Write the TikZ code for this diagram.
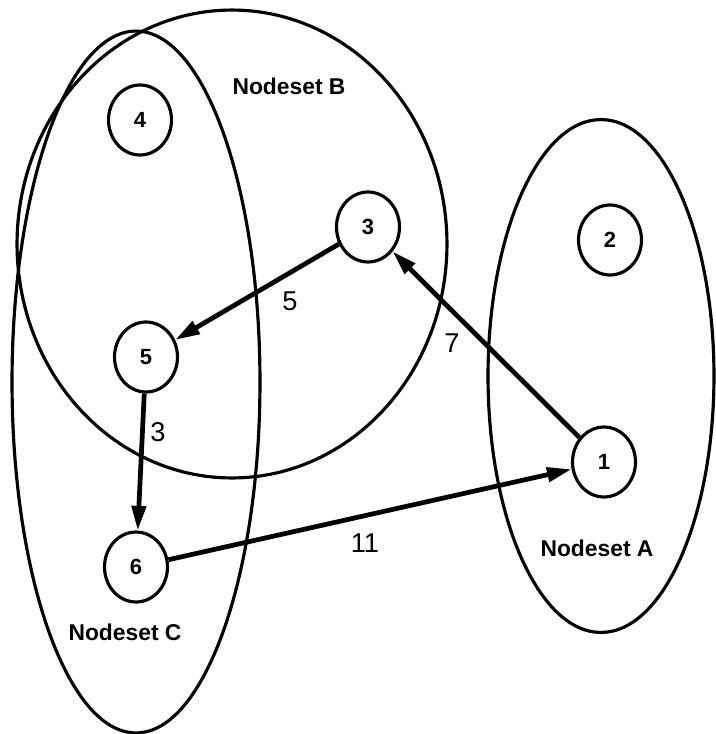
\documentclass[tikz,border=0pt]{standalone}
\usepackage{fontspec}
\setmainfont{Liberation Sans}
\usetikzlibrary{arrows.meta,positioning,shapes.geometric}

\begin{document}
\begin{tikzpicture}[x=0.02cm,y=-0.02cm,>={Triangle[length=14pt,width=8pt]},
  nset/.style={draw,ellipse,line width=1.8pt,inner sep=0pt},
  vtx/.style={draw,ellipse,line width=1.8pt,inner sep=0pt,minimum width=1.26cm,minimum height=1.4cm,font=\fontsize{12.5}{12.5}\selectfont\bfseries},
  setlbl/.style={font=\fontsize{13}{13}\selectfont\bfseries},
  wt/.style={font=\fontsize{15.5}{15.5}\selectfont},
  arc/.style={->,line width=2.7pt}]
\useasboundingbox (0,0) rectangle (716,734);
% nodesets
\node[nset,minimum width=8.6cm,minimum height=9.36cm] (B) at (232,244) {};
\node[nset,minimum width=4.96cm,minimum height=14.04cm] (C) at (136,382) {};
\node[nset,minimum width=4.52cm,minimum height=10.26cm] (A) at (601,376) {};
\node[setlbl] (labB) at (289,86) {Nodeset B};
\node[setlbl] (labA) at (597,548) {Nodeset A};
\node[setlbl] (labC) at (125,632) {Nodeset C};
% vertices
\node[vtx] (n4) at (140,120) {4};
\node[vtx] (n3) at (368,227) {3};
\node[vtx] (n2) at (610,240) {2};
\node[vtx] (n5) at (146,357) {5};
\node[vtx] (n1) at (604,462) {1};
\node[vtx] (n6) at (136,567) {6};
% weighted arcs
\draw[arc] (n3)--(n5);
\draw[arc] (n1)--(n3);
\draw[arc] (n5)--(n6);
\draw[arc] (n6)--(n1);
\node[wt] (w35) at (290,301) {5};
\node[wt] (w13) at (452,343) {7};
\node[wt] (w56) at (158,432) {3};
\node[wt] (w61) at (365,543) {11};
\end{tikzpicture}
\end{document}
